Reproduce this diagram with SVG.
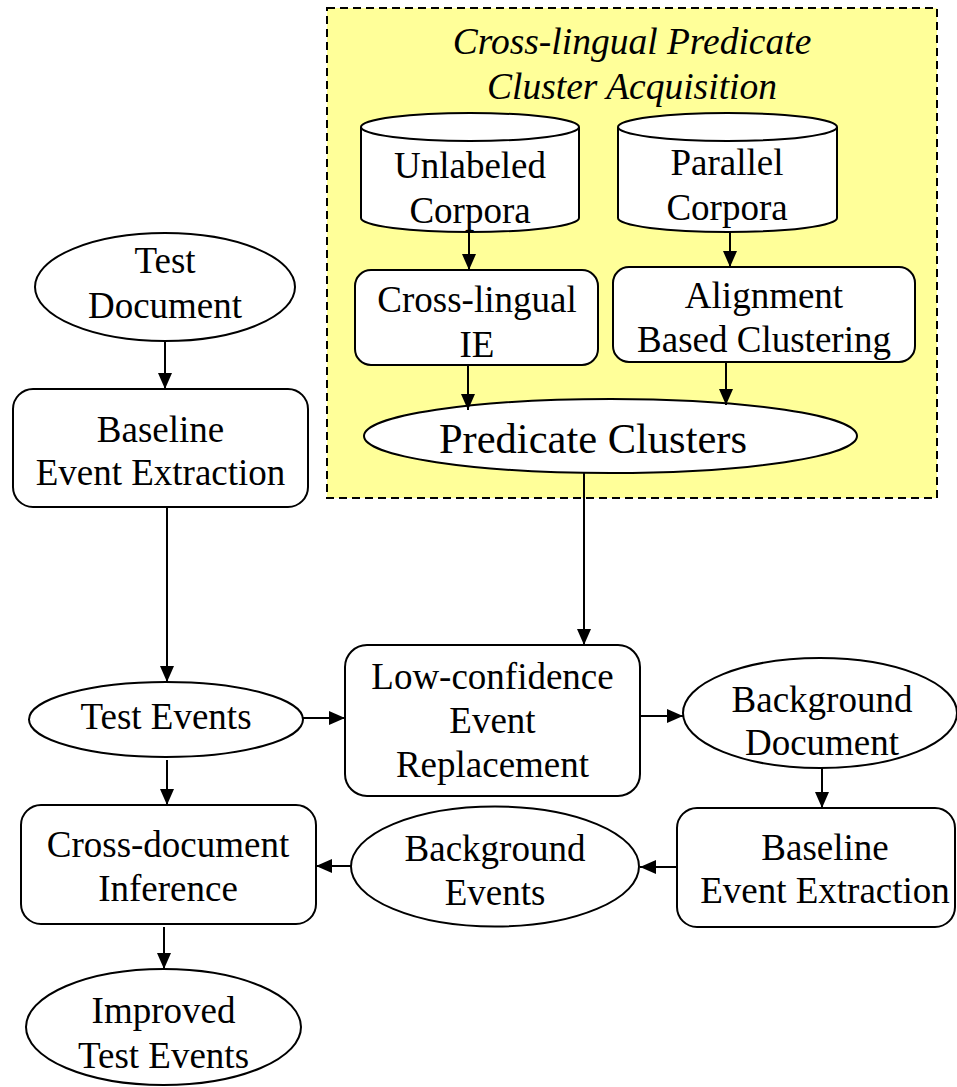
<svg xmlns="http://www.w3.org/2000/svg" width="957" height="1087" viewBox="0 0 957 1087">
<style>
.n{fill:#fff;stroke:#000;stroke-width:2}
.t{font-family:"Liberation Serif","Times New Roman",serif;font-size:37px;fill:#000;text-anchor:middle}
.ti{font-style:italic;font-size:37.5px}
.c{stroke:#000;stroke-width:2;fill:none;marker-end:url(#ah)}
</style>
<defs>
<marker id="ah" markerUnits="userSpaceOnUse" markerWidth="17" markerHeight="14" refX="16" refY="7" orient="auto">
<path d="M0,0 L16,7 L0,14 Z" fill="#000"/>
</marker>
</defs>
<rect width="957" height="1087" fill="#fff"/>
<g id="cluster">
<rect x="327" y="8" width="610" height="490" fill="#ffff99" stroke="#000" stroke-width="2" stroke-dasharray="8,5"/>
<text class="t ti" x="632" y="54">Cross-lingual Predicate</text>
<text class="t ti" x="632" y="99">Cluster Acquisition</text>
</g>
<g id="unlabeled">
<path class="n" d="M361,127 A109,14 0 0 1 579,127 L579,218 A109,14 0 0 1 361,218 Z"/>
<path class="n" d="M361,127 A109,14 0 0 0 579,127" fill="none"/>
<text class="t" x="470" y="178">Unlabeled</text>
<text class="t" x="470" y="223">Corpora</text>
</g>
<g id="parallel">
<path class="n" d="M618,127 A109.5,14 0 0 1 837,127 L837,218 A109.5,14 0 0 1 618,218 Z"/>
<path class="n" d="M618,127 A109.5,14 0 0 0 837,127" fill="none"/>
<text class="t" x="727" y="175">Parallel</text>
<text class="t" x="727" y="220">Corpora</text>
</g>
<g id="crossie">
<rect class="n" x="355" y="270" width="243" height="95" rx="16"/>
<text class="t" x="477" y="312">Cross-lingual</text>
<text class="t" x="477" y="357">IE</text>
</g>
<g id="alignment">
<rect class="n" x="613" y="267" width="302" height="95" rx="16"/>
<text class="t" x="764" y="308">Alignment</text>
<text class="t" x="764" y="352">Based Clustering</text>
</g>
<g id="predclusters">
<ellipse class="n" cx="610.5" cy="436" rx="246.5" ry="37"/>
<text class="t" x="593" y="453" style="font-size:42.5px">Predicate Clusters</text>
</g>
<g id="testdoc">
<ellipse class="n" cx="165" cy="287" rx="130" ry="54"/>
<text class="t" x="165" y="273">Test</text>
<text class="t" x="165" y="318">Document</text>
</g>
<g id="baseline1">
<rect class="n" x="13" y="389" width="295" height="118" rx="20"/>
<text class="t" x="160.5" y="442">Baseline</text>
<text class="t" x="160.5" y="485">Event Extraction</text>
</g>
<g id="testevents">
<ellipse class="n" cx="166" cy="719.5" rx="137" ry="37.5"/>
<text class="t" x="166" y="729">Test Events</text>
</g>
<g id="lowconf">
<rect class="n" x="345" y="645" width="295" height="151" rx="22"/>
<text class="t" x="492.5" y="689">Low-confidence</text>
<text class="t" x="492.5" y="733">Event</text>
<text class="t" x="492.5" y="777">Replacement</text>
</g>
<g id="bgdoc">
<ellipse class="n" cx="820" cy="713" rx="137" ry="55"/>
<text class="t" x="822" y="712">Background</text>
<text class="t" x="822" y="755">Document</text>
</g>
<g id="baseline2">
<rect class="n" x="677" y="808" width="278" height="119" rx="20"/>
<text class="t" x="825" y="860">Baseline</text>
<text class="t" x="825" y="903">Event Extraction</text>
</g>
<g id="bgevents">
<ellipse class="n" cx="495" cy="866.5" rx="144" ry="60"/>
<text class="t" x="495" y="861">Background</text>
<text class="t" x="495" y="905">Events</text>
</g>
<g id="crossdoc">
<rect class="n" x="21" y="805" width="295" height="119" rx="20"/>
<text class="t" x="168" y="857">Cross-document</text>
<text class="t" x="168" y="901">Inference</text>
</g>
<g id="improved">
<ellipse class="n" cx="163.5" cy="1027" rx="137.5" ry="58"/>
<text class="t" x="163.5" y="1023">Improved</text>
<text class="t" x="163.5" y="1068">Test Events</text>
</g>
<g id="connectors">
<path class="c" d="M469,232 L469,270"/>
<path class="c" d="M730,232 L730,267"/>
<path class="c" d="M468,365 L468,410"/>
<path class="c" d="M726,362 L726,405"/>
<path class="c" d="M584,473 L584,645"/>
<path class="c" d="M165,341 L165,389"/>
<path class="c" d="M167,507 L167,682"/>
<path class="c" d="M303,718 L345,718"/>
<path class="c" d="M640,716 L683,716"/>
<path class="c" d="M822,768 L822,808"/>
<path class="c" d="M677,867 L640,867"/>
<path class="c" d="M351,866 L316,866"/>
<path class="c" d="M167,760 L167,805"/>
<path class="c" d="M164,927 L164,969"/>
</g>
</svg>
